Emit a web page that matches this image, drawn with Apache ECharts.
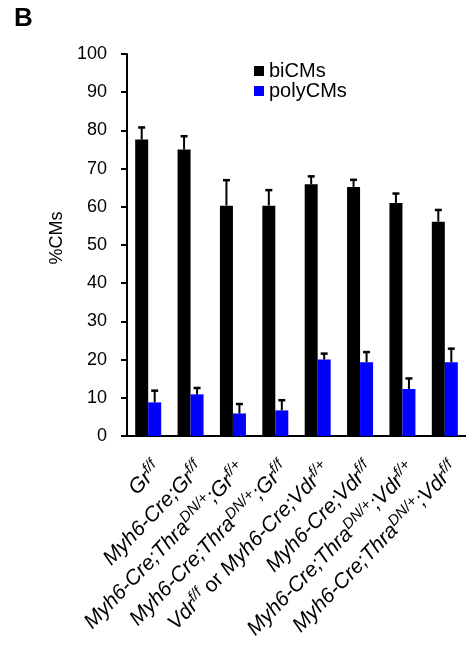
<!DOCTYPE html>
<html>
<head>
<meta charset="utf-8">
<script src="https://cdn.jsdelivr.net/npm/echarts@6/dist/echarts.min.js"></script>
<style>
  html, body { margin: 0; padding: 0; background: #fff; }
  #chart { width: 466px; height: 652px; }
</style>
</head>
<body>
<div id="chart"></div>
<script>
// genotype labels, {s|..} = superscript, {o|..} = upright text
var categories = [
  'Gr{s|f/f}',
  'Myh6-Cre;Gr{s|f/f}',
  'Myh6-Cre;Thra{s|DN/+};Gr{s|f/+}',
  'Myh6-Cre;Thra{s|DN/+};Gr{s|f/f}',
  'Vdr{s|f/f}{o| or }Myh6-Cre;Vdr{s|f/+}',
  'Myh6-Cre;Vdr{s|f/f}',
  'Myh6-Cre;Thra{s|DN/+};Vdr{s|f/+}',
  'Myh6-Cre;Thra{s|DN/+};Vdr{s|f/f}'
]
var biCMs = [77.6, 75.0, 60.3, 60.3, 65.9, 65.2, 61.0, 56.1]
var biErr = [3.3, 3.6, 6.8, 4.2, 2.2, 2.0, 2.6, 3.2]
var polyCMs = [8.8, 10.9, 5.9, 6.7, 20.0, 19.3, 12.3, 19.3]
var polyErr = [3.2, 1.8, 2.6, 2.8, 1.7, 2.8, 2.9, 3.7]

var FONT = 'Liberation Sans'
var BAR_W = 13

// upward-only error whisker drawn over one bar of the pair
function errorSeries(values, errs, shift) {
  return {
    type: 'custom',
    z: 5,
    silent: true,
    encode: { x: 0, y: 1 },
    renderItem: function(params, api) {
      var i = api.value(0)
      var base = api.coord([i, api.value(1)])
      var top = api.coord([i, api.value(1) + api.value(2)])
      var x = base[0] + shift
      return {
        type: 'group',
        children: [
          { type: 'line', shape: { x1: x, y1: base[1], x2: x, y2: top[1] }, style: { stroke: '#000', lineWidth: 2 } },
          { type: 'line', shape: { x1: x - 3.5, y1: top[1] + 0.5, x2: x + 3.5, y2: top[1] + 0.5 }, style: { stroke: '#000', lineWidth: 2.5 } }
        ]
      }
    },
    data: values.map(function(v, i) { return [i, v, errs[i]] })
  }
}

var chart = echarts.init(document.getElementById('chart'))
chart.setOption({
  animation: false,
  textStyle: { fontFamily: FONT, color: '#000' },
  graphic: [
    { type: 'text', left: 14, top: 6, style: { text: 'B', font: 'bold 26px "Liberation Sans"', fill: '#000' } }
  ],
  legend: {
    orient: 'vertical',
    left: 249,
    top: 56,
    icon: 'rect',
    itemWidth: 10,
    itemHeight: 10,
    itemGap: 0,
    data: ['biCMs', 'polyCMs'],
    textStyle: { fontFamily: FONT, fontSize: 20, lineHeight: 18, color: '#000' }
  },
  grid: { left: 127, right: -9, top: 54, bottom: 216, containLabel: false },
  xAxis: {
    type: 'category',
    data: categories,
    axisTick: { show: false },
    axisLine: { lineStyle: { color: '#000', width: 2 } },
    axisLabel: {
      interval: 0,
      rotate: 46,
      margin: 21,
      verticalAlign: 'top',
      fontFamily: FONT,
      fontSize: 21,
      fontStyle: 'italic',
      lineHeight: 26,
      color: '#000',
      rich: {
        s: { fontFamily: FONT, fontSize: 15, fontStyle: 'italic', lineHeight: 15, verticalAlign: 'top', color: '#000' },
        o: { fontFamily: FONT, fontSize: 21, fontStyle: 'normal', lineHeight: 26, color: '#000' }
      }
    }
  },
  yAxis: {
    type: 'value',
    min: 0,
    max: 100,
    interval: 10,
    name: '%CMs',
    nameLocation: 'middle',
    nameGap: 43,
    nameRotate: 90,
    nameTextStyle: { fontFamily: FONT, fontSize: 18, color: '#000', padding: [0, 0, 0, 14] },
    axisLine: { show: true, lineStyle: { color: '#000', width: 2 } },
    axisTick: { show: true, length: 6, lineStyle: { color: '#000', width: 2 } },
    axisLabel: { margin: 20, fontFamily: FONT, fontSize: 18, color: '#000' },
    splitLine: { show: false }
  },
  series: [
    { name: 'biCMs', type: 'bar', barWidth: BAR_W, barGap: '0%', itemStyle: { color: '#000' }, data: biCMs },
    { name: 'polyCMs', type: 'bar', barWidth: BAR_W, barGap: '0%', itemStyle: { color: '#0000ff' }, data: polyCMs },
    errorSeries(biCMs, biErr, -BAR_W / 2),
    errorSeries(polyCMs, polyErr, BAR_W / 2)
  ]
})
</script>
</body>
</html>
